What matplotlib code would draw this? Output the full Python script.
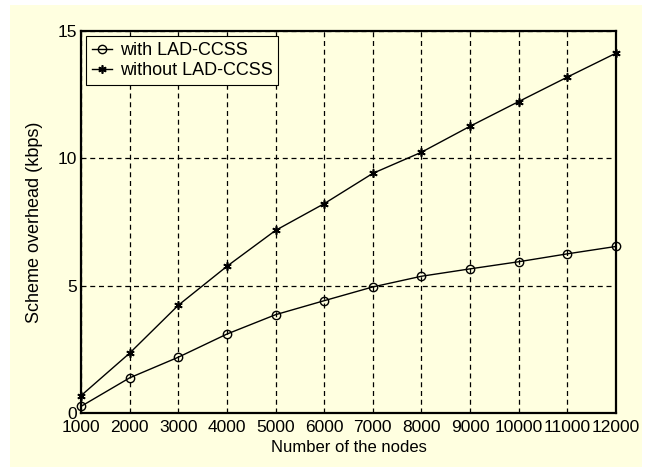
import numpy as np
import matplotlib.pyplot as plt
from matplotlib.patches import Rectangle

plt.rcParams['font.family'] = ['Liberation Sans', 'DejaVu Sans']

# number of nodes and overhead in kbps for both schemes
nodes = [1000, 2000, 3000, 4000, 5000, 6000, 7000, 8000, 9000, 10000, 11000, 12000]
with_lad = [0.26, 1.38, 2.19, 3.10, 3.86, 4.41, 4.95, 5.37, 5.66, 5.94, 6.25, 6.54]
without_lad = [0.68, 2.35, 4.23, 5.76, 7.17, 8.22, 9.41, 10.24, 11.26, 12.23, 13.19, 14.13]
y_ticks = [0, 5, 10, 15]

BG = '#ffffe0'

fig = plt.figure(figsize=(6.49, 4.70), dpi=100, facecolor='white')
# pale yellow panel behind everything
fig.patches.append(Rectangle((10 / 649, 3 / 470), 632 / 649, 462 / 470,
                             transform=fig.transFigure, facecolor=BG,
                             edgecolor='none', zorder=-10))

ax = fig.add_axes([81 / 649, 57 / 470, 535 / 649, 382 / 470])
ax.set_facecolor(BG)

ax.plot(nodes, with_lad, color='black', lw=1, marker='o', ms=6,
        mfc='none', mec='black', mew=1, label='with LAD-CCSS', clip_on=False)
ax.plot(nodes, without_lad, color='black', lw=1, marker=(6, 2, 0), ms=6,
        mew=1.2, label='without LAD-CCSS', clip_on=False)

ax.set_xlim(1000, 12000)
ax.set_ylim(0, 15)
ax.set_xticks(nodes)
ax.set_yticks(y_ticks)
ax.tick_params(direction='in', length=0, labelsize=12.5, pad=3)
ax.tick_params(axis='x', pad=5)
ax.grid(True, color='black', linestyle=(0, (4, 3)), lw=0.9)
for s in ax.spines.values():
    s.set_linewidth(1.6)

ax.set_xlabel('Number of the nodes', fontsize=12, labelpad=4)
ax.set_ylabel('Scheme overhead (kbps)', fontsize=13, labelpad=10)

leg = ax.legend(loc='upper left', fontsize=13, handlelength=1.1,
                handletextpad=0.45, borderpad=0.3, labelspacing=0.2,
                fancybox=False, framealpha=1, borderaxespad=0.3)
leg.get_frame().set_edgecolor('black')
leg.get_frame().set_facecolor(BG)
leg.get_frame().set_linewidth(0.8)

fig.savefig('out.png', dpi=100, facecolor='white')
